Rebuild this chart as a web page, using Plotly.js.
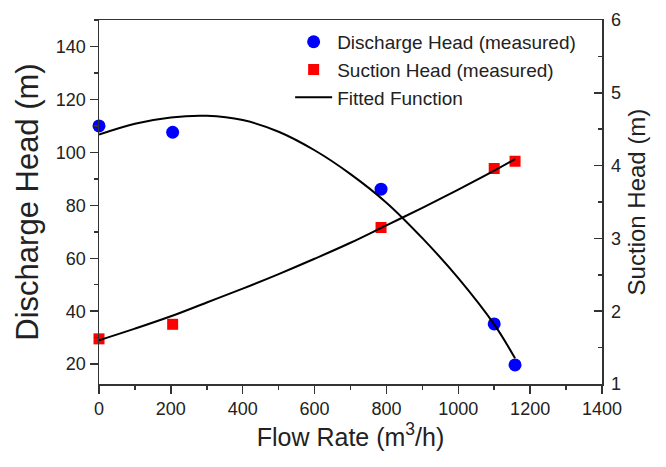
<!DOCTYPE html>
<html>
<head>
<meta charset="utf-8">
<script src="https://cdn.plot.ly/plotly-3.0.1.min.js"></script>
<style>
  html, body { margin: 0; padding: 0; background: #fff; }
  #chart { width: 666px; height: 467px; }
</style>
</head>
<body>
<div id="chart"></div>
<script>
// Measured points
const flowMeasured = [0, 205, 785, 1100, 1158];
const dischargeMeasured = [110.0, 107.6, 86.1, 35.2, 19.7];
const suctionMeasured = [1.62, 1.82, 3.15, 3.96, 4.06];

// Fitted curves
const flowFit = [0, 100, 200, 300, 400, 500, 600, 700, 800, 900, 1000, 1100, 1158];
const dischargeFit = [106.7, 110.8, 113.2, 113.8, 112.2, 107.8, 100.8, 91.8, 81.0, 67.6, 52.5, 35.0, 22.2];
const suctionFit = [1.60, 1.76, 1.93, 2.12, 2.31, 2.51, 2.72, 2.94, 3.18, 3.42, 3.67, 3.93, 4.09];

const FONT = 'Liberation Sans, Arial, sans-serif';
const AX = '#333';

const traces = [
  {
    x: flowMeasured, y: dischargeMeasured, name: 'Discharge Head (measured)',
    type: 'scatter', mode: 'markers', cliponaxis: false,
    marker: {symbol: 'circle', size: 13, color: '#0000ff'}
  },
  {
    x: flowMeasured, y: suctionMeasured, name: 'Suction Head (measured)', yaxis: 'y2',
    type: 'scatter', mode: 'markers', cliponaxis: false,
    marker: {symbol: 'square', size: 11, color: '#ff0000'}
  },
  {
    x: flowFit, y: dischargeFit, name: 'Fitted Function',
    type: 'scatter', mode: 'lines',
    line: {color: '#000', width: 2, shape: 'spline'}
  },
  {
    x: flowFit, y: suctionFit, name: 'Fitted Function', yaxis: 'y2', showlegend: false,
    type: 'scatter', mode: 'lines',
    line: {color: '#000', width: 2, shape: 'spline'}
  }
];

const layout = {
  width: 666, height: 467,
  margin: {l: 99, r: 64, t: 20, b: 83},
  paper_bgcolor: '#fff', plot_bgcolor: '#fff',
  font: {family: FONT, color: '#222', size: 18},
  showlegend: true,
  legend: {
    x: 0.380, y: 0.992, xanchor: 'left', yanchor: 'top',
    bgcolor: 'rgba(0,0,0,0)', borderwidth: 0,
    font: {family: FONT, size: 19, color: '#222'},
    itemwidth: 37, tracegroupgap: 0
  },
  xaxis: {
    range: [0, 1400], tick0: 0, dtick: 200,
    ticks: 'outside', ticklen: 8, tickwidth: 1.5, tickcolor: AX,
    minor: {dtick: 100, ticks: 'outside', ticklen: 4, tickwidth: 1.5, tickcolor: AX},
    showline: true, linecolor: AX, linewidth: 1.5, mirror: true,
    showgrid: false, zeroline: false,
    tickfont: {family: FONT, size: 18, color: '#222'},
    title: {text: 'Flow Rate (m<sup>3</sup>/h)', font: {family: FONT, size: 25, color: '#222'}, standoff: 10}
  },
  yaxis: {
    range: [12.5, 150], tick0: 0, dtick: 20,
    ticks: 'outside', ticklen: 8, tickwidth: 1.5, tickcolor: AX,
    minor: {dtick: 10, ticks: 'outside', ticklen: 4, tickwidth: 1.5, tickcolor: AX},
    showline: true, linecolor: AX, linewidth: 1.5,
    showgrid: false, zeroline: false,
    tickfont: {family: FONT, size: 18, color: '#222'},
    title: {text: 'Discharge Head (m)', font: {family: FONT, size: 31, color: '#222'}, standoff: 8}
  },
  yaxis2: {
    overlaying: 'y', side: 'right',
    range: [1, 6], tick0: 0, dtick: 1,
    ticks: 'inside', ticklen: 8, tickwidth: 1.5, tickcolor: AX,
    minor: {dtick: 0.5, ticks: 'inside', ticklen: 4, tickwidth: 1.5, tickcolor: AX},
    showline: true, linecolor: AX, linewidth: 1.5,
    showgrid: false, zeroline: false,
    tickfont: {family: FONT, size: 18, color: '#222'},
    ticklabelstandoff: 4,
    title: {text: 'Suction Head (m)', font: {family: FONT, size: 24, color: '#222'}, standoff: 8}
  }
};

Plotly.newPlot('chart', traces, layout, {displayModeBar: false, staticPlot: true});
</script>
</body>
</html>
